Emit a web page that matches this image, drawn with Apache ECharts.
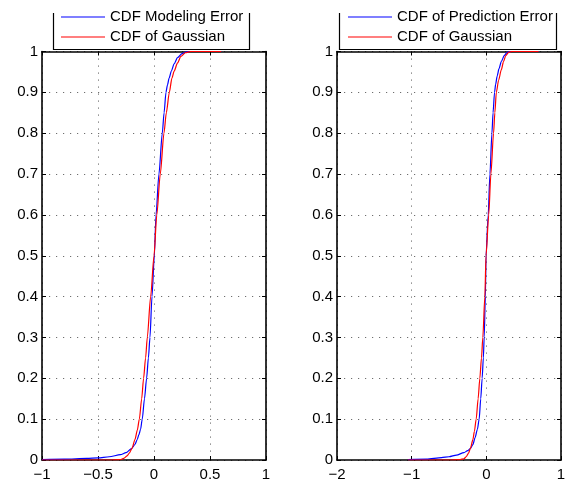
<!DOCTYPE html>
<html>
<head>
<meta charset="utf-8">
<script src="https://cdn.jsdelivr.net/npm/echarts@6/dist/echarts.min.js"></script>
<style>
  html, body { margin: 0; padding: 0; background: #fff; }
  #chart { width: 574px; height: 483px; }
</style>
</head>
<body>
<div id="chart"></div>
<script>
// Empirical CDF of the modeling error vs. fitted Gaussian CDF (left panel)
const modelErrX   = [-1, -0.8, -0.6, -0.5, -0.4, -0.3, -0.25, -0.2, -0.17, -0.15, -0.135, -0.12, -0.105, -0.085, -0.066, -0.05, -0.036, -0.018, 0.003, 0.018, 0.044, 0.074, 0.09, 0.107, 0.12, 0.135, 0.155, 0.18, 0.21, 0.25, 0.29, 0.32, 0.6];
const modelErrCdf = [0.001, 0.002, 0.004, 0.005, 0.008, 0.013, 0.018, 0.028, 0.038, 0.05, 0.062, 0.075, 0.1, 0.15, 0.2, 0.25, 0.3, 0.4, 0.5, 0.6, 0.7, 0.8, 0.85, 0.9, 0.918, 0.935, 0.952, 0.97, 0.985, 0.995, 0.999, 1, 1];
const modelGaussX   = [-1, -0.4, -0.3, -0.27, -0.24, -0.22, -0.196, -0.17, -0.149, -0.131, -0.11, -0.093, -0.075, -0.06, -0.03, 0, 0.025, 0.056, 0.089, 0.11, 0.137, 0.16, 0.18, 0.21, 0.24, 0.28, 0.33, 0.6];
const modelGaussCdf = [0, 0, 0.001, 0.004, 0.01, 0.017, 0.029, 0.05, 0.073, 0.1, 0.15, 0.2, 0.25, 0.3, 0.4, 0.5, 0.6, 0.7, 0.8, 0.85, 0.9, 0.935, 0.952, 0.972, 0.988, 0.997, 1, 1];

// Empirical CDF of the prediction error vs. fitted Gaussian CDF (right panel)
const predErrX   = [-1.05, -0.8, -0.6, -0.5, -0.4, -0.3, -0.25, -0.214, -0.18, -0.15, -0.12, -0.096, -0.075, -0.056, -0.04, -0.029, -0.013, -0.004, 0.025, 0.048, 0.075, 0.09, 0.11, 0.125, 0.145, 0.17, 0.2, 0.24, 0.28, 0.33, 0.7];
const predErrCdf = [0.001, 0.002, 0.006, 0.008, 0.012, 0.018, 0.023, 0.028, 0.038, 0.055, 0.075, 0.1, 0.15, 0.2, 0.25, 0.3, 0.4, 0.5, 0.6, 0.7, 0.8, 0.85, 0.9, 0.92, 0.94, 0.958, 0.975, 0.99, 0.998, 1, 1];
const predGaussX   = [-1.05, -0.5, -0.35, -0.3, -0.27, -0.24, -0.214, -0.18, -0.16, -0.136, -0.11, -0.087, -0.065, -0.047, -0.02, -0.004, 0.032, 0.061, 0.097, 0.114, 0.134, 0.165, 0.2, 0.23, 0.26, 0.3, 0.34, 0.7];
const predGaussCdf = [0, 0, 0.001, 0.003, 0.008, 0.016, 0.028, 0.05, 0.07, 0.1, 0.15, 0.2, 0.25, 0.3, 0.4, 0.5, 0.6, 0.7, 0.8, 0.85, 0.9, 0.93, 0.955, 0.975, 0.99, 0.998, 1, 1];

// Axis ranges and ticks
const leftXRange  = [-1, 1];   const leftXStep  = 0.5;
const rightXRange = [-2, 1];   const rightXStep = 1;
const yRange = [0, 1];         const yStep = 0.1;

const legendLeft  = ['CDF Modeling Error', 'CDF of Gaussian'];
const legendRight = ['CDF of Prediction Error', 'CDF of Gaussian'];

const FONT = "'Liberation Sans', Arial, Helvetica, sans-serif";
const zip = (xs, ys) => xs.map((x, i) => [x, ys[i]]);
const fmt = v => String(+v.toFixed(2)).replace('-', '\u2212');

const dotted = { show: true, lineStyle: { color: '#6e6e6e', width: 1, type: [1.2, 5.8] } };
const frameLine = { show: true, onZero: false, lineStyle: { color: '#000', width: 1.6 } };
const tickIn = { show: true, inside: true, length: 4, lineStyle: { color: '#000', width: 1 } };

function xAxes(gridIndex, range, step) {
  return [
    { type: 'value', gridIndex, min: range[0], max: range[1], interval: step, position: 'bottom',
      axisLine: frameLine, axisTick: tickIn, splitLine: dotted,
      axisLabel: { color: '#000', fontFamily: FONT, fontSize: 15, margin: 7, formatter: fmt,
                   showMinLabel: true, showMaxLabel: true } },
    { type: 'value', gridIndex, min: range[0], max: range[1], interval: step, position: 'top',
      axisLine: frameLine, axisTick: tickIn, splitLine: { show: false }, axisLabel: { show: false } }
  ];
}
function yAxes(gridIndex) {
  return [
    { type: 'value', gridIndex, min: yRange[0], max: yRange[1], interval: yStep, position: 'left',
      axisLine: frameLine, axisTick: tickIn, splitLine: dotted,
      axisLabel: { color: '#000', fontFamily: FONT, fontSize: 15, margin: 4, formatter: fmt } },
    { type: 'value', gridIndex, min: yRange[0], max: yRange[1], interval: yStep, position: 'right',
      axisLine: frameLine, axisTick: tickIn, splitLine: { show: false }, axisLabel: { show: false } }
  ];
}

function curve(name, xs, ys, color, xi, yi) {
  return {
    type: 'line', name, data: zip(xs, ys), xAxisIndex: xi, yAxisIndex: yi,
    showSymbol: false, symbol: 'none', smooth: 0.25, smoothMonotone: 'x',
    lineStyle: { color, width: 1.2 }, itemStyle: { color }, animation: false, z: 3
  };
}

const legendCommon = {
  orient: 'vertical', icon: 'rect', itemWidth: 44, itemHeight: 1.2, itemGap: 4,
  selectedMode: false, padding: 0,
  textStyle: { color: '#000', fontFamily: FONT, fontSize: 15, lineHeight: 16 }
};

// Legend frame: sides and bottom only
function openBox(x1, x2) {
  return { type: 'polyline', silent: true, z: 10,
    shape: { points: [[x1, 13], [x1, 49.5], [x2, 49.5], [x2, 13]] },
    style: { stroke: '#000', lineWidth: 1.2, fill: null } };
}

const chart = echarts.init(document.getElementById('chart'), null, { renderer: 'canvas' });
chart.setOption({
  backgroundColor: '#fff',
  animation: false,
  grid: [
    { left: 42, top: 51.5, width: 224, bottom: 23 },
    { left: 337, top: 51.5, width: 224, bottom: 23 }
  ],
  xAxis: [...xAxes(0, leftXRange, leftXStep), ...xAxes(1, rightXRange, rightXStep)],
  yAxis: [...yAxes(0), ...yAxes(1)],
  legend: [
    Object.assign({ left: 61, top: 9, data: legendLeft }, legendCommon),
    Object.assign({ left: 348, top: 9, data: legendRight }, legendCommon)
  ],
  graphic: [openBox(53.5, 249.5), openBox(339.5, 556.5)],
  series: [
    curve('CDF Modeling Error', modelErrX, modelErrCdf, '#0000ff', 0, 0),
    curve('CDF of Gaussian', modelGaussX, modelGaussCdf, '#ff0000', 0, 0),
    curve('CDF of Prediction Error', predErrX, predErrCdf, '#0000ff', 2, 2),
    curve('CDF of Gaussian', predGaussX, predGaussCdf, '#ff0000', 2, 2)
  ]
});
</script>
</body>
</html>
